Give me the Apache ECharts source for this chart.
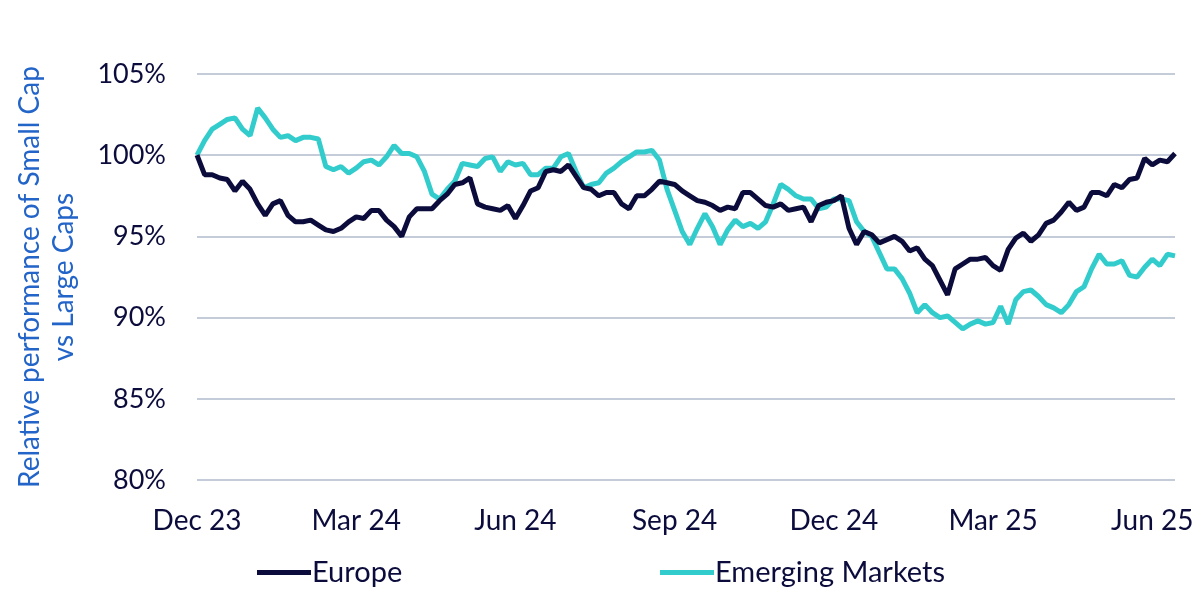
<!DOCTYPE html>
<html>
<head>
<meta charset="utf-8">
<script src="https://cdn.jsdelivr.net/npm/echarts@6/dist/echarts.min.js"></script>
<style>html,body{margin:0;padding:0;background:#fff}#c{width:1200px;height:600px}</style>
</head>
<body>
<div id="c"></div>
<script>
// Tick labels shown on the x axis (one every 21 samples, ~ a quarter)
const tickLabels = ['Dec 23','Mar 24','Jun 24','Sep 24','Dec 24','Mar 25','Jun 25'];
const samplesPerTick = 21;

// Relative performance (%), sampled at regular intervals from Dec 23 to end Jun 25
const europe = [
100.0,98.8,98.8,98.6,98.5,97.8,98.4,97.9,97.0,96.3,
97.0,97.2,96.3,95.9,95.9,96.0,95.7,95.4,95.3,95.5,
95.9,96.2,96.1,96.6,96.6,96.0,95.6,95.0,96.2,96.7,
96.7,96.7,97.2,97.6,98.2,98.3,98.6,97.0,96.8,96.7,
96.6,96.9,96.1,96.9,97.8,98.0,99.0,99.1,99.0,99.4,
98.7,98.0,97.9,97.5,97.7,97.7,97.0,96.7,97.5,97.5,
97.9,98.4,98.3,98.2,97.8,97.5,97.2,97.1,96.9,96.6,
96.8,96.7,97.7,97.7,97.3,96.9,96.8,97.0,96.6,96.7,
96.8,95.9,96.9,97.1,97.2,97.5,95.5,94.5,95.3,95.1,
94.6,94.8,95.0,94.7,94.1,94.3,93.6,93.2,92.3,91.4,
93.0,93.3,93.6,93.6,93.7,93.2,92.9,94.2,94.9,95.2,
94.7,95.1,95.8,96.0,96.5,97.1,96.6,96.8,97.7,97.7,
97.5,98.2,98.0,98.5,98.6,99.8,99.4,99.7,99.6,100.1
];
const emerging = [
100.0,100.9,101.6,101.9,102.2,102.3,101.6,101.2,102.9,102.3,
101.6,101.1,101.2,100.9,101.1,101.1,101.0,99.3,99.1,99.3,
98.9,99.2,99.6,99.7,99.4,99.9,100.6,100.1,100.1,99.9,
99.0,97.6,97.3,97.9,98.4,99.5,99.4,99.3,99.8,99.9,
99.0,99.6,99.4,99.5,98.8,98.8,99.2,99.2,99.9,100.1,
99.0,98.0,98.2,98.3,98.9,99.2,99.6,99.9,100.2,100.2,
100.3,99.7,97.9,96.6,95.3,94.5,95.5,96.4,95.6,94.5,
95.4,96.0,95.6,95.8,95.5,95.9,97.0,98.2,97.9,97.5,
97.3,97.3,96.7,96.8,97.3,97.3,97.2,95.9,95.3,95.0,
94.0,93.0,93.0,92.4,91.5,90.3,90.8,90.3,90.0,90.1,
89.7,89.3,89.6,89.8,89.6,89.7,90.7,89.6,91.1,91.6,
91.7,91.3,90.8,90.6,90.3,90.8,91.6,91.9,93.0,93.9,
93.3,93.3,93.5,92.6,92.5,93.1,93.6,93.2,93.9,93.8
];
const categories = europe.map((_, i) => i % samplesPerTick === 0 ? tickLabels[i / samplesPerTick] : '');

const navy = '#0c0c3c';
const teal = '#33cccc';
const font = 'Lato';

const chart = echarts.init(document.getElementById('c'), null, {renderer: 'canvas'});
chart.setOption({
  animation: false,
  backgroundColor: '#ffffff',
  textStyle: {fontFamily: font},
  grid: {left: 197, right: 25, top: 74, bottom: 120, containLabel: false},
  legend: [
    {data: ['Europe'], left: 257, top: 558, padding: 0, icon: 'rect', itemWidth: 54, itemHeight: 5, itemGap: 0,
     textStyle: {fontFamily: font, fontSize: 29, color: navy, padding: [0,0,0,-4]}},
    {data: ['Emerging Markets'], left: 660, top: 558, padding: 0, icon: 'rect', itemWidth: 54, itemHeight: 5, itemGap: 0,
     textStyle: {fontFamily: font, fontSize: 29, color: navy, padding: [0,0,0,-4]}}
  ],
  xAxis: {
    type: 'category',
    data: categories,
    boundaryGap: false,
    axisLine: {show: false},
    axisTick: {show: false},
    splitLine: {show: false},
    axisLabel: {
      interval: (i) => i % samplesPerTick === 0,
      margin: 27,
      fontFamily: font, fontSize: 28, color: navy
    }
  },
  yAxis: {
    type: 'value',
    min: 80, max: 105, interval: 5,
    name: 'Relative performance of Small Cap\nvs Large Caps',
    nameLocation: 'middle',
    nameRotate: 90,
    nameGap: 116,
    nameTextStyle: {fontFamily: font, fontSize: 28, color: '#2264c8', lineHeight: 34, align: 'center'},
    axisLine: {show: false},
    axisTick: {show: false},
    axisLabel: {formatter: '{value}%', margin: 31, fontFamily: font, fontSize: 27, color: navy},
    splitLine: {lineStyle: {color: '#c3ccd8', width: 2}}
  },
  series: [
    {name: 'Europe', type: 'line', data: europe, showSymbol: false, symbol: 'none',
     lineStyle: {color: navy, width: 5}, itemStyle: {color: navy}, z: 3},
    {name: 'Emerging Markets', type: 'line', data: emerging, showSymbol: false, symbol: 'none',
     lineStyle: {color: teal, width: 5}, itemStyle: {color: teal}, z: 2}
  ]
});
</script>
</body>
</html>
